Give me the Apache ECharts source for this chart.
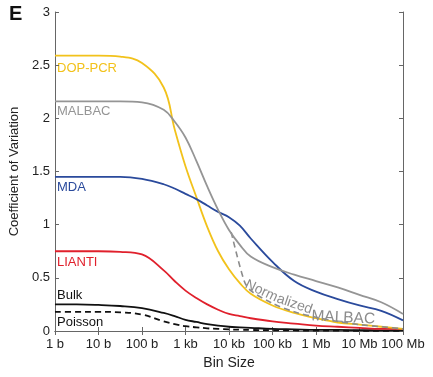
<!DOCTYPE html>
<html>
<head>
<meta charset="utf-8">
<script src="https://cdn.jsdelivr.net/npm/echarts@6/dist/echarts.min.js"></script>
<style>
html,body{margin:0;padding:0;background:#fff;}
#chart{width:433px;height:377px;}
</style>
</head>
<body>
<div id="chart"></div>
<script>
// Bin sizes (bases), shared x values for most series
const binSizes = [1, 3.16, 10, 31.6, 100, 316, 562, 1000, 1778, 3162, 5623, 10000, 17783, 31623, 1e5, 3.16e5, 1e6, 3.16e6, 1e7, 3.16e7, 1e8];
const dopPcr  = [2.59,2.59,2.59,2.58,2.52,2.29,1.90,1.55,1.26,0.98,0.75,0.58,0.45,0.35,0.24,0.17,0.12,0.08,0.06,0.04,0.02];
const malbac  = [2.16,2.16,2.16,2.16,2.15,2.08,1.97,1.82,1.60,1.36,1.14,0.95,0.81,0.70,0.60,0.53,0.47,0.41,0.34,0.27,0.16];
const mda     = [1.45,1.45,1.45,1.45,1.43,1.38,1.34,1.29,1.24,1.18,1.12,1.07,0.99,0.87,0.65,0.47,0.37,0.30,0.24,0.19,0.10];
const lianti  = [0.75,0.75,0.75,0.745,0.72,0.57,0.47,0.38,0.31,0.25,0.20,0.16,0.14,0.12,0.09,0.07,0.05,0.04,0.03,0.02,0.02];
const bulk    = [0.25,0.25,0.245,0.235,0.215,0.17,0.14,0.105,0.085,0.065,0.05,0.04,0.035,0.03,0.02,0.015,0.01,0.01,0.008,0.006,0.005];
const poisson = [0.18,0.18,0.18,0.175,0.155,0.09,0.065,0.045,0.035,0.025,0.02,0.015,0.012,0.01,0.007,0.005,0.004,0.003,0.002,0.002,0.001];
// Normalized MALBAC has its own bins
const normBins = [11220, 22390, 31623, 1e5, 3.16e5, 1e6, 3.16e6, 1e7, 3.16e7, 1e8];
const normMalbac = [0.93, 0.47, 0.38, 0.26, 0.18, 0.13, 0.09, 0.06, 0.04, 0.02];
const xTickLabels = ['1 b','10 b','100 b','1 kb','10 kb','100 kb','1 Mb','10 Mb','100 Mb'];

const pair = (xs, ys) => xs.map((x, i) => [x, ys[i]]);
const FONT = '"Liberation Sans", Arial, Helvetica, sans-serif';
const AX = '#666';

const chart = echarts.init(document.getElementById('chart'), null, {renderer: 'canvas'});
const line = (name, xs, ys, color, opts) => Object.assign({
  name, type: 'line', data: pair(xs, ys), showSymbol: false, symbol: 'none',
  smooth: 0.4, lineStyle: {color, width: 1.8}, itemStyle: {color}, z: 3, silent: true
}, opts || {});

chart.setOption({
  animation: false,
  backgroundColor: '#fff',
  textStyle: {fontFamily: FONT},
  grid: {left: 53, right: 30, top: 12, bottom: 46, containLabel: false},
  xAxis: [{
    type: 'log', logBase: 10, min: 1, max: 1e8, splitNumber: 8,
    name: 'Bin Size', nameLocation: 'middle', nameGap: 23,
    nameTextStyle: {fontSize: 14, color: '#222', fontFamily: FONT},
    axisLine: {lineStyle: {color: AX, width: 1}},
    axisTick: {inside: true, length: 4, lineStyle: {color: AX}},
    axisLabel: {margin: 7, fontSize: 13, color: '#222', fontFamily: FONT,
      formatter: v => xTickLabels[Math.round(Math.log10(v))] || ''},
    splitLine: {show: false}, minorTick: {show: false}
  }, {
    type: 'log', logBase: 10, min: 1, max: 1e8, splitNumber: 8, position: 'top',
    axisLine: {lineStyle: {color: AX, width: 1}},
    axisTick: {inside: true, length: 4, lineStyle: {color: AX}},
    axisLabel: {show: false}, splitLine: {show: false}
  }],
  yAxis: [{
    type: 'value', min: 0, max: 3, interval: 0.5,
    name: 'Coefficient of Variation', nameLocation: 'middle', nameGap: 30,
    nameTextStyle: {fontSize: 13, color: '#222', fontFamily: FONT},
    axisLine: {show: true, lineStyle: {color: AX, width: 1}},
    axisTick: {show: true, inside: true, length: 4, lineStyle: {color: AX}},
    axisLabel: {margin: 5, fontSize: 13, color: '#222', fontFamily: FONT},
    splitLine: {show: false}
  }, {
    type: 'value', min: 0, max: 3, interval: 0.5, position: 'right',
    axisLine: {show: true, lineStyle: {color: AX, width: 1}},
    axisTick: {show: true, inside: true, length: 4, lineStyle: {color: AX}},
    axisLabel: {show: false}, splitLine: {show: false}
  }],
  series: [
    line('Poisson', binSizes, poisson, '#111', {lineStyle: {color: '#111', width: 1.8, type: [6, 4]}}),
    line('Bulk', binSizes, bulk, '#111'),
    line('LIANTI', binSizes, lianti, '#e0202c'),
    line('DOP-PCR', binSizes, dopPcr, '#f2c21b'),
    line('Normalized MALBAC', normBins, normMalbac, '#8c8c8c', {smooth: 0.3, lineStyle: {color: '#8c8c8c', width: 1.6, type: [6, 4]}}),
    line('MDA', binSizes, mda, '#2a4a9c'),
    line('MALBAC', binSizes, malbac, '#959595')
  ],
  graphic: [
    {type: 'text', left: 9, top: 4, style: {text: 'E', font: 'bold 20px ' + FONT, fill: '#111'}},
    {type: 'text', x: 57, y: 68, style: {text: 'DOP-PCR', font: '13px ' + FONT, fill: '#f2c21b', verticalAlign: 'middle'}},
    {type: 'text', x: 57, y: 111, style: {text: 'MALBAC', font: '13px ' + FONT, fill: '#959595', verticalAlign: 'middle'}},
    {type: 'text', x: 57, y: 187, style: {text: 'MDA', font: '13px ' + FONT, fill: '#2a4a9c', verticalAlign: 'middle'}},
    {type: 'text', x: 57, y: 262, style: {text: 'LIANTI', font: '13px ' + FONT, fill: '#e0202c', verticalAlign: 'middle'}},
    {type: 'text', x: 57, y: 295, style: {text: 'Bulk', font: '13px ' + FONT, fill: '#111', verticalAlign: 'middle'}},
    {type: 'text', x: 57, y: 322, style: {text: 'Poisson', font: '13px ' + FONT, fill: '#111', verticalAlign: 'middle'}},
    {type: 'text', x: 243, y: 290, rotation: -0.44, z: 10, style: {text: 'Norm', font: '14px ' + FONT, fill: '#8c8c8c', align: 'left', verticalAlign: 'bottom'}},
    {type: 'text', x: 275, y: 305, rotation: -0.33, z: 10, style: {text: 'alized', font: '14px ' + FONT, fill: '#8c8c8c', align: 'left', verticalAlign: 'bottom'}},
    {type: 'text', x: 311, y: 324, rotation: -0.05, z: 10, style: {text: 'MALBAC', font: '15.5px ' + FONT, fill: '#8c8c8c', align: 'left', verticalAlign: 'bottom'}}
  ]
});
</script>
</body>
</html>
